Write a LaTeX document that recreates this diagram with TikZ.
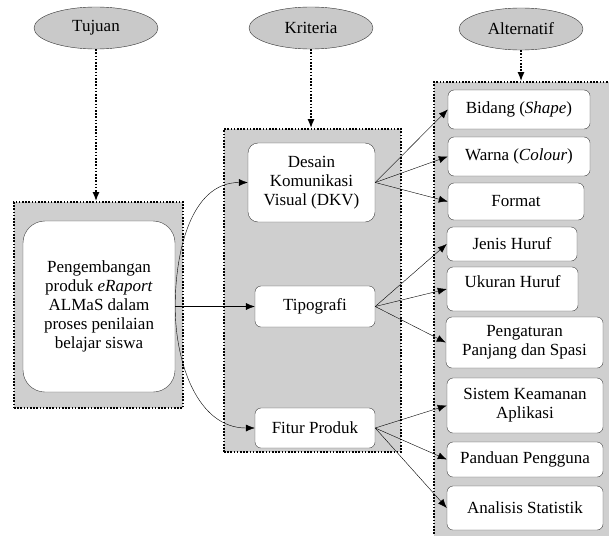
\documentclass[tikz,border=0pt]{standalone}
\usepackage{fontspec}
\setmainfont{Liberation Serif}
\usetikzlibrary{shapes,
                arrows,
                arrows.meta,
                positioning}
\tikzset{header/.style =
   {ellipse,
    draw=black!80,
    fill=gray!42,
    minimum width=124pt,
    minimum height=42pt}}
\tikzset{group/.style =
   {rectangle,
    draw,
    fill=gray!38,
    line width=1.6pt,
    dash pattern=on 1.6pt off 1.6pt}}
\tikzset{block/.style =
   {rectangle,
    draw=black!75,
    fill=white,
    text centered,
    align=center,
    inner sep=2pt,
    rounded corners=6pt}}
\tikzset{arrow/.style = {draw, -{Latex[length=9pt,width=7pt]}}}
\tikzset{dotarrow/.style =
   {draw,
    line width=1.6pt,
    dash pattern=on 1.6pt off 1.6pt,
    -{Latex[length=9pt,width=7pt]}}}

\begin{document}
\begin{tikzpicture}[auto, x=1pt, y=1pt,
                    every node/.style={font=\fontsize{17}{19}\selectfont}]

    \useasboundingbox (0,0) rectangle (609,-535);

    % groups
    \node [group, minimum width=169pt, minimum height=206pt] (goal-group) at (98.5,-305) {};
    \node [group, minimum width=177pt, minimum height=323pt] (crit-group) at (312.5,-290.5) {};
    \node [group, minimum width=181pt, minimum height=458pt] (alt-group) at (524.5,-311) {};

    % headers
    \node [header] (tujuan) at (96,-28) {Tujuan};
    \node [header] (kriteria) at (311,-28) {Kriteria};
    \node [header] (alternatif) at (521,-29) {Alternatif};

    % goal
    \node [block, rounded corners=22pt, minimum width=152pt, minimum height=171pt]
          (goal) at (99,-306.5)
    {Pengembangan\\ produk \textit{eRaport}\\ ALMaS dalam\\ proses penilaian\\ belajar siswa};

    % criteria
    \node [block, rounded corners=10pt, minimum width=127pt, minimum height=79pt]
          (dkv) at (311.5,-182.5) {Desain\\ Komunikasi\\ Visual (DKV)};
    \node [block, minimum width=120pt, minimum height=41pt] (tipo) at (315,-306.5) {Tipografi};
    \node [block, minimum width=120pt, minimum height=40pt] (fitur) at (315,-428) {Fitur Produk};

    % alternatives
    \node [block, minimum width=142pt, minimum height=39pt] (bidang) at (519,-109.5) {Bidang (\textit{Shape})};
    \node [block, minimum width=142pt, minimum height=39pt] (warna) at (519,-156.5) {Warna (\textit{Colour})};
    \node [block, minimum width=136pt, minimum height=37pt] (format) at (516,-201.5) {Format};
    \node [block, minimum width=130pt, minimum height=34pt] (jenis) at (512,-244) {Jenis Huruf};
    \node [block, minimum width=131pt, minimum height=44pt] (ukuran) at (512.5,-289) {Ukuran Huruf\\[-4pt]};
    \node [block, minimum width=157pt, minimum height=51pt] (atur) at (524.5,-342.5) {Pengaturan\\ Panjang dan Spasi};
    \node [block, minimum width=156pt, minimum height=55pt] (sistem) at (525,-405.5) {Sistem Keamanan\\ Aplikasi};
    \node [block, minimum width=156pt, minimum height=35pt] (panduan) at (525,-459.5) {Panduan Pengguna};
    \node [block, minimum width=156pt, minimum height=44pt] (analisis) at (525,-508) {Analisis Statistik};

    % header arrows
    \draw [dotarrow] (tujuan.south) -- (tujuan.south |- goal-group.north);
    \draw [dotarrow] (kriteria.south) -- (kriteria.south |- crit-group.north);
    \draw [dotarrow] (alternatif.south) -- (alternatif.south |- alt-group.north);

    % goal to criteria
    \draw [arrow] (goal.east) to[out=90, in=180] (dkv.west);
    \draw [arrow] (goal.east) -- (tipo.west);
    \draw [arrow] (goal.east) to[out=-90, in=180] (fitur.west);

    % criteria to alternatives
    \draw [arrow] (dkv.east) -- (bidang.west);
    \draw [arrow] (dkv.east) -- (warna.west);
    \draw [arrow] (dkv.east) -- (format.west);
    \draw [arrow] (tipo.east) -- (jenis.west);
    \draw [arrow] (tipo.east) -- (ukuran.west);
    \draw [arrow] (tipo.east) -- (atur.west);
    \draw [arrow] (fitur.east) -- (sistem.west);
    \draw [arrow] (fitur.east) -- (panduan.west);
    \draw [arrow] (fitur.east) -- (analisis.west);

\end{tikzpicture}
\end{document}
